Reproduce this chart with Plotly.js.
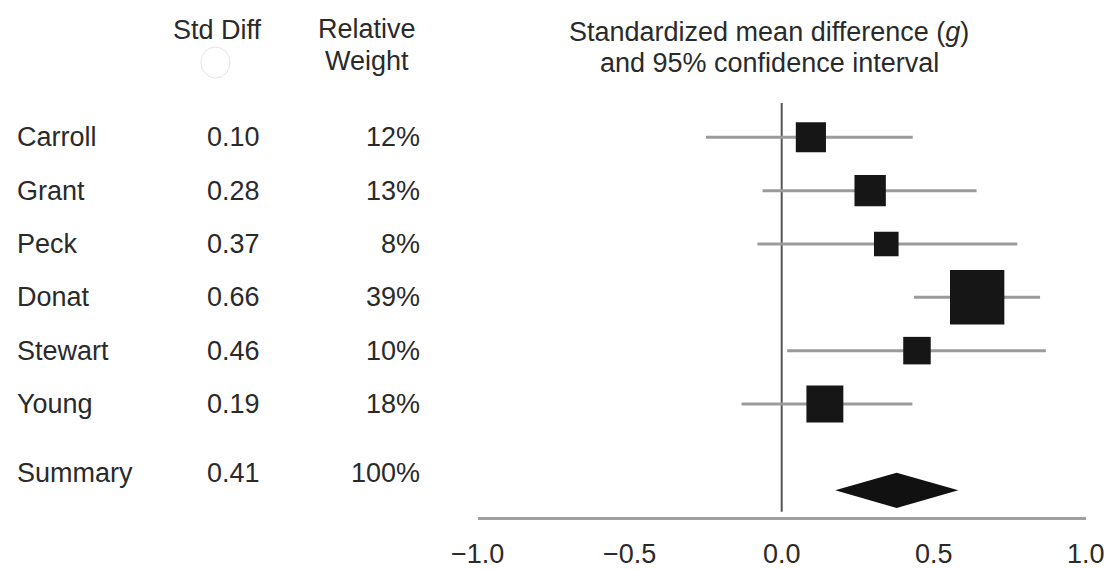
<!DOCTYPE html>
<html>
<head>
<meta charset="utf-8">
<script src="https://cdn.plot.ly/plotly-3.0.1.min.js"></script>
<style>html,body{margin:0;padding:0;background:#fff;}#chart{width:1110px;height:569px;}</style>
</head>
<body>
<div id="chart"></div>
<script>
// ---- data ----
const studies   = ['Carroll', 'Grant', 'Peck', 'Donat', 'Stewart', 'Young'];
const stdDiff   = [0.10, 0.28, 0.37, 0.66, 0.46, 0.19];
const relWeight = [12, 13, 8, 39, 10, 18];           // percent
const pointEst  = [0.096, 0.291, 0.344, 0.643, 0.445, 0.142];
const ciLower   = [-0.249, -0.063, -0.080, 0.435, 0.018, -0.132];
const ciUpper   = [0.431, 0.641, 0.775, 0.850, 0.869, 0.430];
const summaryLabel   = 'Summary';
const summaryStdDiff = 0.41;
const summaryWeight  = 100;
const summaryLower   = 0.176;
const summaryEst     = 0.378;
const summaryUpper   = 0.581;
const xTickVals   = [-1, -0.5, 0, 0.5, 1];
const xTickLabels = ['\u22121.0', '\u22120.5', '0.0', '0.5', '1.0'];

// ---- layout helpers ----
const FONT = 'Liberation Sans, Arial, Helvetica, sans-serif';
const TXT = '#2a2a2a';
const FS = 27;
const rows = studies.map((_, i) => i + 1);
const summaryTextRow = 7.29;
const summaryShapeRow = 7.62;
const diamondHalf = 0.33;

const squares = {
  type: 'scatter', mode: 'markers',
  x: pointEst, y: rows,
  marker: { symbol: 'square', color: '#161616', opacity: 1,
            size: relWeight.map(w => 8.7 * Math.sqrt(w)), line: { width: 0 } },
  error_x: {
    type: 'data', symmetric: false,
    array: ciUpper.map((u, i) => u - pointEst[i]),
    arrayminus: ciLower.map((l, i) => pointEst[i] - l),
    width: 0, thickness: 3, color: '#9b9b9b'
  },
  hoverinfo: 'skip', showlegend: false
};

const diamond = {
  type: 'scatter', mode: 'lines', fill: 'toself',
  x: [summaryLower, summaryEst, summaryUpper, summaryEst, summaryLower],
  y: [summaryShapeRow, summaryShapeRow - diamondHalf, summaryShapeRow, summaryShapeRow + diamondHalf, summaryShapeRow],
  line: { width: 0, color: '#111' }, fillcolor: '#111',
  hoverinfo: 'skip', showlegend: false
};

const annotations = [];
function addText(x, y, text, xanchor) {
  annotations.push({ xref: 'paper', yref: 'y', x: x, y: y, text: text, showarrow: false,
    xanchor: xanchor, yanchor: 'middle', font: { family: FONT, size: FS, color: TXT } });
}
studies.forEach((s, i) => {
  addText(15 / 1110, rows[i], s, 'left');
  addText(205 / 1110, rows[i], stdDiff[i].toFixed(2), 'left');
  addText(422 / 1110, rows[i], relWeight[i] + '%', 'right');
});
addText(15 / 1110, summaryTextRow, summaryLabel, 'left');
addText(205 / 1110, summaryTextRow, summaryStdDiff.toFixed(2), 'left');
addText(422 / 1110, summaryTextRow, summaryWeight + '%', 'right');

function addHeader(x, yPix, text) {
  annotations.push({ xref: 'paper', yref: 'paper', x: x, y: 1 - yPix / 569, text: text, showarrow: false,
    xanchor: 'center', yanchor: 'middle', font: { family: FONT, size: FS, color: TXT } });
}
addHeader(217 / 1110, 30, 'Std Diff');
addHeader(367 / 1110, 29, 'Relative');
addHeader(367 / 1110, 61, 'Weight');
addHeader(769 / 1110, 32, 'Standardized mean difference (<i>g</i>)');
addHeader(769 / 1110, 63, 'and 95% confidence interval');

const layout = {
  width: 1110, height: 569,
  margin: { l: 0, r: 0, t: 0, b: 0 },
  paper_bgcolor: '#fff', plot_bgcolor: '#fff',
  xaxis: {
    domain: [477.7 / 1110, 1085.7 / 1110],
    range: [-1, 1],
    tickvals: xTickVals, ticktext: xTickLabels,
    ticks: '', showgrid: false, zeroline: false,
    showline: true, linecolor: '#a0a0a0', linewidth: 3,
    ticklabelstandoff: 11,
    tickfont: { family: FONT, size: FS, color: TXT },
    fixedrange: true
  },
  yaxis: {
    domain: [1 - 516.7 / 569, 1 - 100 / 569],
    range: [8.114, 0.3006],
    showticklabels: false, ticks: '', showgrid: false, zeroline: false, showline: false,
    fixedrange: true
  },
  shapes: [
    { type: 'line', xref: 'x', yref: 'y', x0: 0, x1: 0, y0: 0.357, y1: 8.02,
      line: { color: '#555', width: 2 }, layer: 'below' },
    { type: 'circle', xref: 'paper', yref: 'paper',
      x0: 201 / 1110, x1: 230 / 1110, y0: 1 - 78 / 569, y1: 1 - 47 / 569,
      line: { color: '#e4e4e4', width: 1 }, fillcolor: '#fff' }
  ],
  annotations: annotations,
  showlegend: false
};

Plotly.newPlot('chart', [squares, diamond], layout, { displayModeBar: false, staticPlot: true });
</script>
</body>
</html>
